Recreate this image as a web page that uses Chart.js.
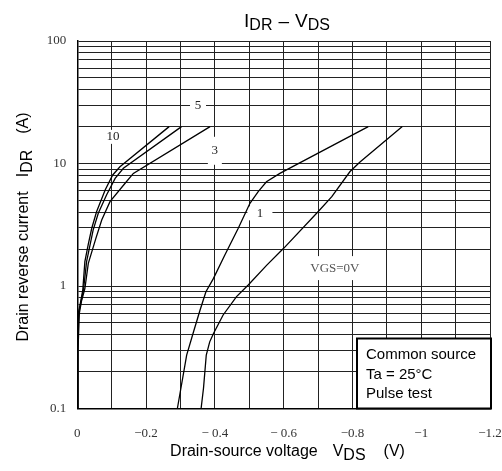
<!DOCTYPE html>
<html>
<head>
<meta charset="utf-8">
<script src="https://cdn.jsdelivr.net/npm/chart.js@4/dist/chart.umd.min.js"></script>
<style>
html,body{margin:0;padding:0;background:#fff;}
#wrap{width:502px;height:471px;position:relative;}
</style>
</head>
<body>
<div id="wrap"><canvas id="c" width="502" height="471"></canvas></div>
<script>
// ---- data (V in volts, I in amperes) ----
const vgs10V = [-0.0005,-0.001,-0.003,-0.008,-0.016,-0.022,-0.032,-0.042,-0.056,-0.081,-0.103,-0.124,-0.267];
const vgs10I = [0.1,0.3,0.6,0.7,0.93,1.58,2.2,2.96,4.04,6.07,8.06,9.4,20];
const vgs5V  = [-0.0005,-0.001,-0.004,-0.009,-0.018,-0.027,-0.046,-0.061,-0.085,-0.11,-0.134,-0.303];
const vgs5I  = [0.1,0.3,0.6,0.7,0.93,1.58,2.86,3.92,5.53,7.55,9.13,20];
const vgs3V  = [-0.001,-0.002,-0.006,-0.012,-0.022,-0.032,-0.054,-0.071,-0.095,-0.139,-0.163,-0.386];
const vgs3I  = [0.1,0.3,0.6,0.75,0.95,1.53,2.45,3.46,4.88,6.9,8.3,20];
const vgs1V  = [-0.291,-0.318,-0.338,-0.357,-0.374,-0.396,-0.429,-0.468,-0.502,-0.526,-0.55,-0.589,-0.846];
const vgs1I  = [0.1,0.273,0.423,0.637,0.898,1.155,1.79,2.96,4.73,5.9,7.1,8.3,20];
const vgs0V  = [-0.36,-0.367,-0.375,-0.385,-0.396,-0.424,-0.463,-0.497,-0.551,-0.6,-0.70,-0.74,-0.793,-0.822,-0.945];
const vgs0I  = [0.1,0.147,0.273,0.35,0.41,0.58,0.82,1.02,1.48,2.03,4.04,5.36,8.6,10.3,20];

const xTickValues = [0,-0.1,-0.2,-0.3,-0.4,-0.5,-0.6,-0.7,-0.8,-0.9,-1.0,-1.1,-1.2];
const xTickLabels = ['0','','\u22120.2','','\u2212 0.4','','\u2212 0.6','','\u22120.8','','\u22121','','\u22121.2'];
const yDecades = [0.1,1,10];
const yTickLabels = {'0.1':'0.1','1':'1','10':'10','100':'100'};

const curveLabels = [
  {text:'10', v:-0.104, i:16.5, w:25, h:14},
  {text:'5', v:-0.351, i:29.5, w:16, h:14},
  {text:'3', v:-0.40, i:12.7, w:14, h:28},
  {text:'1', v:-0.531, i:3.92, w:25, h:14},
  {text:'VGS=0V', v:-0.749, i:1.4, w:50, h:24, color:'#555'}
];

function pts(vs, is){ return vs.map((v,k)=>({x:v, y:is[k]})); }

const yTicks = [];
yDecades.forEach(d=>{ for(let m=1;m<=9;m++) yTicks.push(+(d*m).toPrecision(3)); });
yTicks.push(100);

const SERIF = '"Liberation Serif", "DejaVu Serif", serif';
const SANS = '"Liberation Sans", Arial, sans-serif';

function drawRich(ctx, parts, size, subSize, subDrop){
  // returns total width, draws starting at 0 baseline 0
  let x = 0;
  parts.forEach(p=>{
    x += p.gap || 0;
    ctx.font = (p.sub ? subSize : size) + 'px ' + SANS;
    ctx.fillText(p.t, x, p.sub ? subDrop : 0);
    x += ctx.measureText(p.t).width;
  });
  return x;
}
function richWidth(ctx, parts, size, subSize){
  let x = 0;
  parts.forEach(p=>{
    x += p.gap || 0;
    ctx.font = (p.sub ? subSize : size) + 'px ' + SANS;
    x += ctx.measureText(p.t).width;
  });
  return x;
}

const textPlugin = {
  id:'textPlugin',
  beforeDatasetsDraw(chart){
    const ctx = chart.ctx, xs = chart.scales.x, ys = chart.scales.y;
    ctx.save();
    curveLabels.forEach(l=>{
      const px = xs.getPixelForValue(l.v), py = ys.getPixelForValue(l.i);
      ctx.fillStyle = '#fff';
      ctx.fillRect(px - l.w/2, py - l.h/2, l.w, l.h);
      ctx.fillStyle = l.color || '#222';
      ctx.font = '13px ' + SERIF;
      ctx.textAlign = 'center';
      ctx.textBaseline = 'middle';
      ctx.fillText(l.text, px, py);
    });
    ctx.restore();
  },
  afterDraw(chart){
    const ctx = chart.ctx;
    ctx.save();
    ctx.fillStyle = '#000';
    ctx.textBaseline = 'alphabetic';
    ctx.textAlign = 'left';
    // title
    const tParts = [{t:'I'},{t:'DR',sub:true},{t:'\u2013',gap:6},{t:'V',gap:6},{t:'DS',sub:true}];
    const tw = richWidth(ctx, tParts, 19, 16);
    ctx.save(); ctx.translate(287 - tw/2, 27); drawRich(ctx, tParts, 19, 16, 3); ctx.restore();
    // x label
    const xParts = [{t:'Drain-source voltage'},{t:'V',gap:15},{t:'DS',sub:true},{t:'(V)',gap:18}];
    const xw = richWidth(ctx, xParts, 16, 16);
    ctx.save(); ctx.translate(287.5 - xw/2, 456); drawRich(ctx, xParts, 16, 16, 4); ctx.restore();
    // y label
    const yParts = [{t:'Drain reverse current'},{t:'I',gap:14},{t:'DR',sub:true},{t:'(A)',gap:16}];
    const yw = richWidth(ctx, yParts, 16, 16);
    ctx.save(); ctx.translate(28, 227 + yw/2); ctx.rotate(-Math.PI/2); drawRich(ctx, yParts, 16, 16, 4); ctx.restore();
    // legend box
    const xs = chart.scales.x, ys = chart.scales.y;
    const bx = 357, by = 338.5, bw = xs.right - 357 + 1, bh = ys.bottom - 338.5;
    ctx.fillStyle = '#fff';
    ctx.fillRect(bx, by, bw, bh);
    ctx.strokeStyle = '#000';
    ctx.lineWidth = 2;
    ctx.strokeRect(bx, by, bw, bh);
    ctx.fillStyle = '#000';
    ctx.font = '15px ' + SANS;
    ctx.fillText('Common source', 366, 359);
    ctx.fillText('Ta = 25\u00b0C', 366, 379);
    ctx.fillText('Pulse test', 366, 398);
    ctx.restore();
  }
};

const lineStyle = {borderColor:'#000', borderWidth:1.3, pointRadius:0, fill:false, tension:0};

new Chart(document.getElementById('c'), {
  type:'line',
  data:{datasets:[
    Object.assign({label:'VGS=10V', data:pts(vgs10V, vgs10I)}, lineStyle),
    Object.assign({label:'VGS=5V', data:pts(vgs5V, vgs5I)}, lineStyle),
    Object.assign({label:'VGS=3V', data:pts(vgs3V, vgs3I)}, lineStyle),
    Object.assign({label:'VGS=1V', data:pts(vgs1V, vgs1I)}, lineStyle),
    Object.assign({label:'VGS=0V', data:pts(vgs0V, vgs0I)}, lineStyle)
  ]},
  options:{
    responsive:false, animation:false, devicePixelRatio:1,
    layout:{padding:{left:0, top:41, right:12, bottom:0}},
    plugins:{legend:{display:false}, tooltip:{enabled:false}, title:{display:false}},
    scales:{
      x:{
        type:'linear', min:-1.2, max:0, reverse:true,
        afterBuildTicks(s){ s.ticks = xTickValues.map(v=>({value:v})); },
        afterFit(s){ s.height = 471 - 408.5; s.paddingLeft = 0; s.paddingRight = 0; },
        grid:{color:'#222', lineWidth:1, drawTicks:false},
        border:{display:true, color:'#000', width:1.5},
        ticks:{autoSkip:false, maxRotation:0, padding:17, color:'#333',
          font:{family:SERIF, size:13},
          callback(v, idx){ return xTickLabels[idx]; }}
      },
      y:{
        type:'logarithmic', min:0.1, max:100,
        afterBuildTicks(s){ s.ticks = yTicks.map(v=>({value:v})); },
        afterFit(s){ s.width = 77.3; },
        grid:{color:'#222', lineWidth:1, drawTicks:false},
        border:{display:true, color:'#000', width:1.5},
        ticks:{autoSkip:false, padding:11, color:'#333',
          font:{family:SERIF, size:13},
          callback(v){ const k = String(+(+v).toPrecision(3)); return yTickLabels[k] || ''; }}
      }
    }
  },
  plugins:[textPlugin]
});
</script>
</body>
</html>
